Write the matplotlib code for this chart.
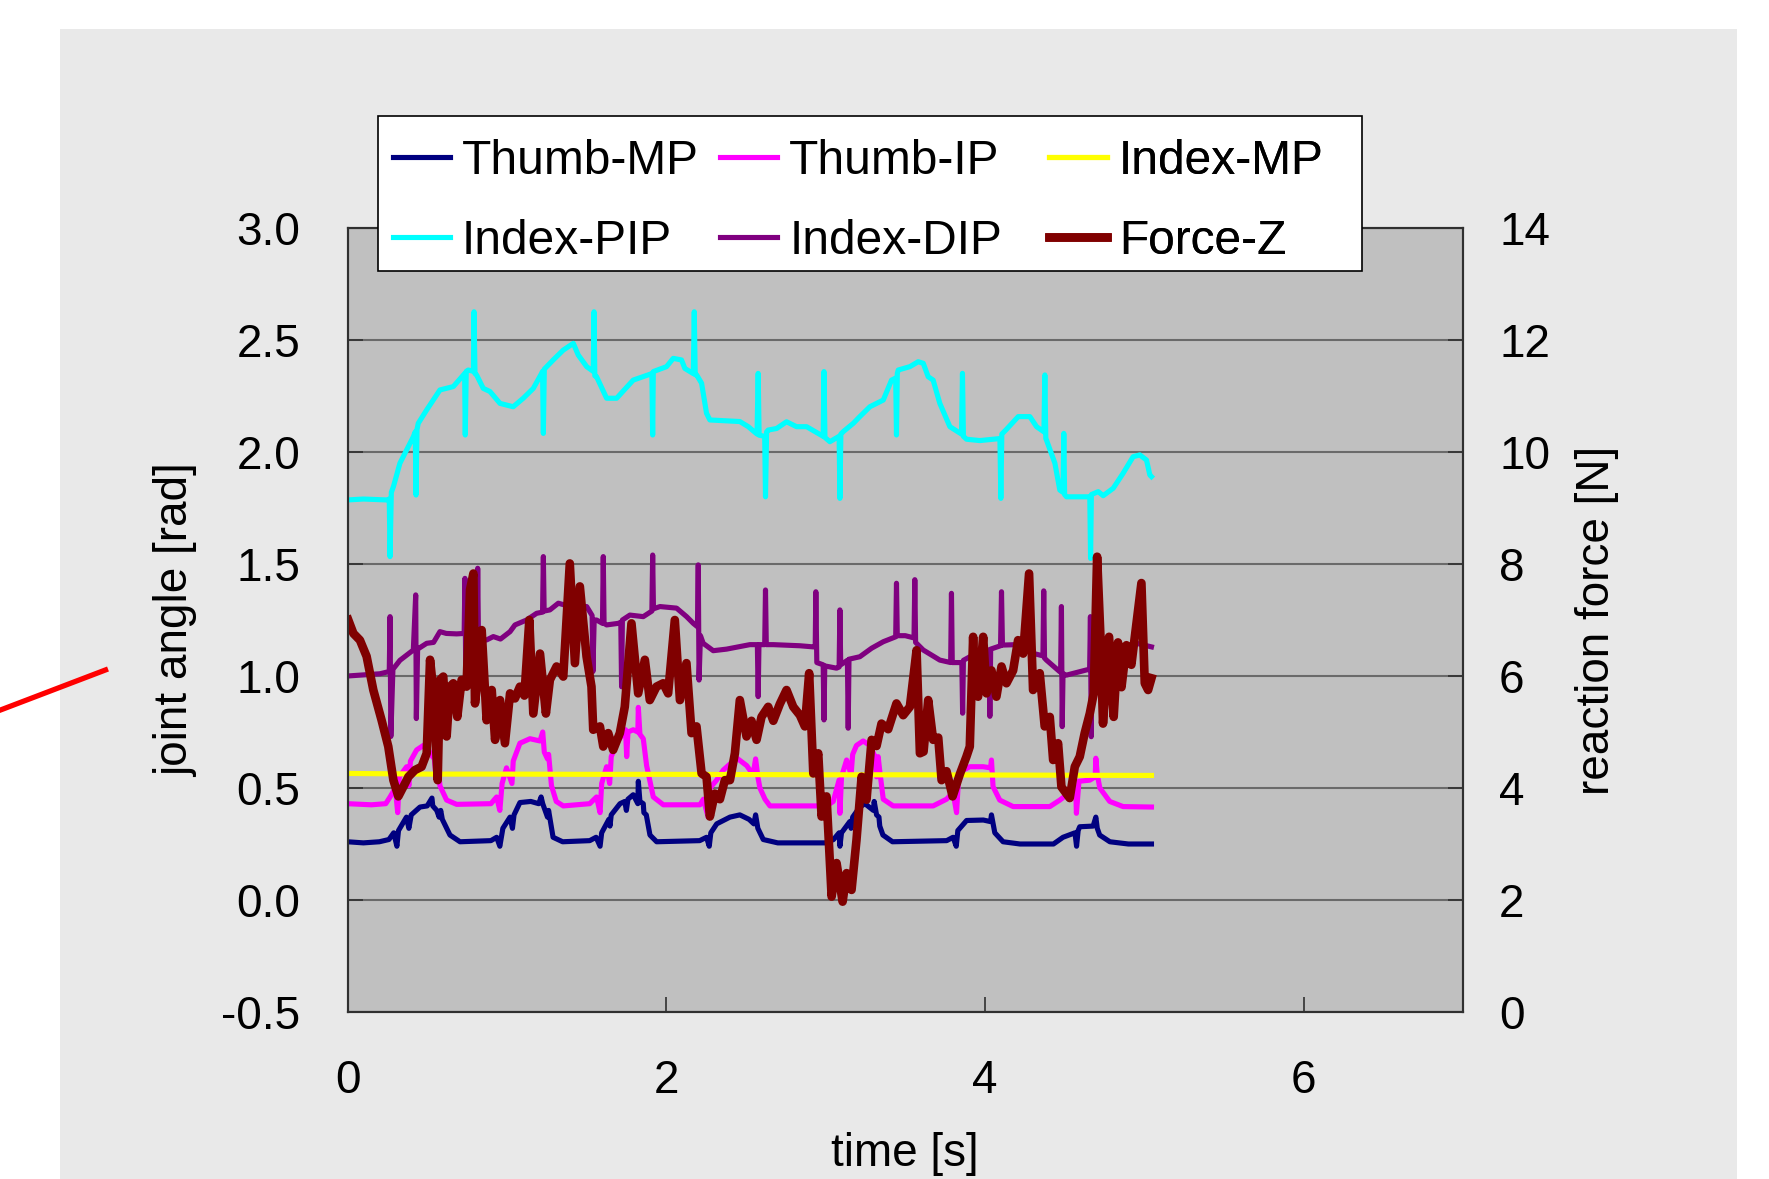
import matplotlib
matplotlib.use("Agg")
import matplotlib.pyplot as plt
from matplotlib.patches import Rectangle
from matplotlib.lines import Line2D
from matplotlib.ticker import FormatStrFormatter

plt.rcParams['font.family'] = ['Liberation Sans', 'DejaVu Sans']

# --- data ---
thumb_mp_t = [0.00, 0.10, 0.20, 0.26, 0.29, 0.31, 0.32, 0.37, 0.385, 0.40, 0.455, 0.50, 0.53, 0.535,
              0.56, 0.575, 0.585, 0.595, 0.643, 0.706, 0.90, 0.936, 0.956, 0.975, 1.02, 1.035, 1.045,
              1.082, 1.15, 1.20, 1.215, 1.225, 1.255, 1.262, 1.29, 1.35, 1.52, 1.56, 1.585, 1.595,
              1.64, 1.647, 1.655, 1.71, 1.74, 1.75, 1.76, 1.793, 1.822, 1.825, 1.835, 1.856, 1.86,
              1.875, 1.898, 1.94, 2.21, 2.253, 2.27, 2.28, 2.317, 2.40, 2.462, 2.52, 2.55, 2.561,
              2.575, 2.609, 2.70, 3.00, 3.05, 3.085, 3.09, 3.10, 3.152, 3.16, 3.17, 3.215, 3.247,
              3.30, 3.305, 3.32, 3.335, 3.34, 3.36, 3.42, 3.76, 3.80, 3.82, 3.83, 3.885, 3.99, 4.035,
              4.041, 4.062, 4.114, 4.22, 4.43, 4.49, 4.565, 4.575, 4.585, 4.595, 4.679, 4.696, 4.705,
              4.72, 4.784, 4.90, 5.045]
thumb_mp = [0.26, 0.255, 0.26, 0.27, 0.30, 0.24, 0.31, 0.37, 0.32, 0.38, 0.415, 0.42, 0.455, 0.42,
            0.40, 0.37, 0.40, 0.36, 0.29, 0.26, 0.265, 0.28, 0.24, 0.32, 0.37, 0.32, 0.38,
            0.435, 0.44, 0.43, 0.46, 0.43, 0.37, 0.40, 0.28, 0.26, 0.265, 0.28, 0.24, 0.30,
            0.36, 0.33, 0.38, 0.43, 0.44, 0.40, 0.45, 0.47, 0.43, 0.53, 0.44, 0.43, 0.39,
            0.38, 0.29, 0.26, 0.265, 0.28, 0.24, 0.30, 0.34, 0.37, 0.38, 0.36, 0.34, 0.38,
            0.32, 0.27, 0.255, 0.255, 0.27, 0.30, 0.24, 0.30, 0.35, 0.32, 0.37, 0.415, 0.43,
            0.40, 0.44, 0.38, 0.37, 0.33, 0.29, 0.26, 0.265, 0.28, 0.24, 0.31, 0.355, 0.357, 0.35,
            0.38, 0.30, 0.26, 0.25, 0.25, 0.28, 0.30, 0.24, 0.31, 0.327, 0.33, 0.37, 0.32,
            0.29, 0.26, 0.25, 0.25]

thumb_ip_t = [0.00, 0.15, 0.24, 0.267, 0.30, 0.315, 0.325, 0.371, 0.385, 0.395, 0.434, 0.476, 0.50,
              0.518, 0.545, 0.555, 0.565, 0.58, 0.622, 0.685, 0.90, 0.936, 0.956, 0.97, 0.998, 1.032,
              1.04, 1.082, 1.145, 1.208, 1.225, 1.235, 1.255, 1.262, 1.28, 1.31, 1.354, 1.52, 1.563,
              1.585, 1.595, 1.626, 1.645, 1.655, 1.689, 1.745, 1.752, 1.76, 1.793, 1.822, 1.825,
              1.835, 1.856, 1.877, 1.919, 1.982, 2.212, 2.233, 2.263, 2.275, 2.317, 2.358, 2.442,
              2.505, 2.545, 2.561, 2.575, 2.588, 2.62, 2.651, 3.006, 3.048, 3.085, 3.09, 3.10,
              3.132, 3.16, 3.17, 3.194, 3.236, 3.278, 3.31, 3.32, 3.33, 3.341, 3.362, 3.424, 3.675,
              3.759, 3.80, 3.822, 3.835, 3.864, 3.905, 3.989, 4.035, 4.041, 4.051, 4.093, 4.177,
              4.407, 4.47, 4.532, 4.57, 4.574, 4.59, 4.658, 4.692, 4.696, 4.705, 4.721, 4.783,
              4.867, 5.045]
thumb_ip = [0.43, 0.425, 0.43, 0.46, 0.50, 0.39, 0.55, 0.595, 0.51, 0.62, 0.67, 0.69, 0.685,
            0.655, 0.63, 0.56, 0.63, 0.51, 0.446, 0.427, 0.43, 0.46, 0.40, 0.52, 0.59, 0.52,
            0.62, 0.70, 0.72, 0.71, 0.75, 0.66, 0.63, 0.65, 0.51, 0.44, 0.42, 0.43, 0.46,
            0.39, 0.52, 0.595, 0.52, 0.64, 0.70, 0.76, 0.64, 0.75, 0.76, 0.75, 0.86,
            0.74, 0.72, 0.60, 0.46, 0.425, 0.425, 0.45, 0.37, 0.50, 0.536, 0.58, 0.634,
            0.60, 0.56, 0.63, 0.55, 0.50, 0.45, 0.42, 0.42, 0.44, 0.536, 0.387, 0.55,
            0.625, 0.56, 0.65, 0.69, 0.71, 0.69, 0.64, 0.55, 0.64, 0.57, 0.45, 0.42, 0.42,
            0.45, 0.48, 0.39, 0.55, 0.58, 0.595, 0.595, 0.59, 0.625, 0.506, 0.446, 0.417,
            0.417, 0.446, 0.48, 0.50, 0.387, 0.53, 0.535, 0.55, 0.633, 0.56, 0.50, 0.44,
            0.417, 0.415]

index_mp_t = [0.0, 0.5, 1.0, 1.5, 2.0, 2.5, 3.0, 3.5, 4.0, 4.5, 5.045]
index_mp = [0.565, 0.562, 0.562, 0.561, 0.561, 0.56, 0.559, 0.559, 0.558, 0.557, 0.556]

index_pip_t = [0.00, 0.10, 0.246, 0.262, 0.267, 0.275, 0.288, 0.329, 0.371, 0.413, 0.425, 0.430,
               0.436, 0.444, 0.497, 0.580, 0.664, 0.727, 0.735, 0.739, 0.745, 0.758, 0.79, 0.794,
               0.80, 0.810, 0.852, 0.894, 0.957, 1.040, 1.103, 1.166, 1.218, 1.224, 1.229, 1.235,
               1.291, 1.354, 1.417, 1.448, 1.501, 1.542, 1.547, 1.552, 1.563, 1.626, 1.689, 1.793,
               1.91, 1.915, 1.919, 2.002, 2.044, 2.096, 2.117, 2.17, 2.176, 2.182, 2.191, 2.222,
               2.253, 2.274, 2.462, 2.515, 2.57, 2.577, 2.583, 2.618, 2.623, 2.63, 2.640, 2.693,
               2.755, 2.818, 2.881, 2.954, 2.985, 2.990, 2.996, 3.027, 3.085, 3.090, 3.096, 3.111,
               3.174, 3.215, 3.278, 3.362, 3.414, 3.44, 3.445, 3.45, 3.456, 3.529, 3.581, 3.613,
               3.644, 3.675, 3.717, 3.780, 3.853, 3.859, 3.865, 3.885, 3.968, 4.052, 4.094, 4.100,
               4.106, 4.135, 4.209, 4.282, 4.324, 4.37, 4.376, 4.382, 4.386, 4.439, 4.470, 4.49,
               4.495, 4.50, 4.512, 4.637, 4.658, 4.663, 4.668, 4.711, 4.742, 4.805, 4.867, 4.930,
               4.972, 5.014, 5.035, 5.045]
index_pip = [1.786, 1.79, 1.786, 1.79, 1.533, 1.82, 1.845, 1.95, 2.009, 2.068, 2.09, 1.808,
             2.10, 2.128, 2.188, 2.277, 2.292, 2.344, 2.35, 2.076, 2.36, 2.366, 2.36, 2.626,
             2.35, 2.344, 2.284, 2.27, 2.217, 2.202, 2.24, 2.284, 2.351, 2.36, 2.083, 2.37,
             2.411, 2.455, 2.485, 2.433, 2.381, 2.36, 2.626, 2.34, 2.336, 2.24, 2.24, 2.321,
             2.35, 2.076, 2.359, 2.381, 2.418, 2.411, 2.373, 2.35, 2.626, 2.345, 2.344, 2.307,
             2.173, 2.143, 2.136, 2.113, 2.08, 2.351, 2.075, 2.07, 1.80, 2.09, 2.098, 2.105,
             2.135, 2.113, 2.113, 2.083, 2.07, 2.359, 2.065, 2.046, 2.07, 1.793, 2.08, 2.091,
             2.128, 2.158, 2.202, 2.232, 2.321, 2.33, 2.076, 2.35, 2.366, 2.381, 2.403, 2.396,
             2.336, 2.321, 2.217, 2.113, 2.08, 2.351, 2.07, 2.057, 2.051, 2.057, 2.06, 1.793,
             2.08, 2.101, 2.158, 2.158, 2.113, 2.09, 2.344, 2.06, 2.054, 1.95, 1.83, 1.82,
             2.083, 1.81, 1.80, 1.80, 1.80, 1.525, 1.81, 1.823, 1.805, 1.838, 1.905, 1.979,
             1.987, 1.964, 1.897, 1.89]

index_dip_t = [0.00, 0.10, 0.204, 0.262, 0.267, 0.272, 0.285, 0.329, 0.413, 0.428, 0.432, 0.44,
               0.497, 0.54, 0.580, 0.62, 0.685, 0.732, 0.737, 0.742, 0.755, 0.790, 0.813, 0.817,
               0.822, 0.873, 0.915, 0.96, 1.02, 1.051, 1.124, 1.187, 1.224, 1.229, 1.234, 1.27,
               1.323, 1.396, 1.501, 1.535, 1.54, 1.548, 1.563, 1.60, 1.605, 1.61, 1.626, 1.699,
               1.715, 1.72, 1.725, 1.772, 1.856, 1.91, 1.915, 1.92, 1.961, 2.065, 2.128, 2.17,
               2.196, 2.201, 2.206, 2.215, 2.232, 2.295, 2.379, 2.525, 2.572, 2.577, 2.582, 2.618,
               2.623, 2.628, 2.672, 2.839, 2.923, 2.935, 2.939, 2.945, 2.985, 2.99, 2.995, 3.069,
               3.085, 3.09, 3.095, 3.137, 3.142, 3.147, 3.215, 3.289, 3.362, 3.44, 3.445, 3.45,
               3.50, 3.555, 3.56, 3.565, 3.613, 3.717, 3.785, 3.79, 3.795, 3.855, 3.86, 3.865,
               3.926, 4.026, 4.031, 4.036, 4.098, 4.104, 4.11, 4.198, 4.302, 4.364, 4.369, 4.374,
               4.386, 4.47, 4.475, 4.48, 4.485, 4.49, 4.512, 4.637, 4.657, 4.662, 4.667, 4.672,
               4.72, 4.951, 5.045]
index_dip = [1.00, 1.005, 1.01, 1.02, 1.265, 0.73, 1.03, 1.07, 1.116, 1.362, 0.81, 1.12,
             1.146, 1.15, 1.198, 1.19, 1.188, 1.19, 1.436, 1.012, 1.17, 1.168, 1.17, 1.481,
             1.16, 1.161, 1.176, 1.165, 1.198, 1.228, 1.25, 1.28, 1.285, 1.533, 1.29, 1.295,
             1.325, 1.31, 1.31, 1.27, 1.02, 1.25, 1.25, 1.235, 1.533, 1.235, 1.228, 1.235,
             1.24, 0.952, 1.25, 1.272, 1.265, 1.29, 1.54, 1.30, 1.31, 1.303, 1.265, 1.235,
             1.22, 1.496, 0.982, 1.18, 1.146, 1.113, 1.12, 1.14, 1.14, 0.908, 1.14, 1.14,
             1.384, 1.14, 1.14, 1.135, 1.13, 1.13, 1.376, 1.06, 1.05, 0.804, 1.045, 1.035,
             1.04, 1.295, 1.05, 1.07, 0.767, 1.075, 1.086, 1.124, 1.153, 1.175, 1.414, 1.18,
             1.18, 1.17, 1.43, 1.15, 1.116, 1.071, 1.06, 1.369, 1.06, 1.06, 0.834, 1.07,
             1.094, 1.116, 0.82, 1.12, 1.135, 1.376, 1.138, 1.14, 1.101, 1.09, 1.38, 1.08,
             1.071, 1.019, 1.02, 1.31, 0.774, 1.01, 1.004, 1.027, 1.03, 1.265, 0.729, 1.05,
             1.10, 1.146, 1.13]

force_t = [0.005, 0.037, 0.078, 0.12, 0.162, 0.214, 0.256, 0.288, 0.319, 0.35, 0.382, 0.423, 0.465,
           0.497, 0.518, 0.538, 0.566, 0.58, 0.601, 0.622, 0.643, 0.664, 0.689, 0.716, 0.747, 0.769,
           0.79, 0.80, 0.821, 0.842, 0.873, 0.905, 0.926, 0.957, 0.988, 1.02, 1.051, 1.082, 1.11,
           1.141, 1.166, 1.208, 1.245, 1.27, 1.312, 1.354, 1.395, 1.427, 1.458, 1.50, 1.531, 1.542,
           1.584, 1.605, 1.636, 1.667, 1.709, 1.74, 1.782, 1.824, 1.866, 1.897, 1.939, 1.981, 2.012,
           2.054, 2.086, 2.127, 2.159, 2.19, 2.222, 2.253, 2.274, 2.305, 2.337, 2.368, 2.40, 2.431,
           2.462, 2.504, 2.535, 2.567, 2.598, 2.64, 2.672, 2.713, 2.755, 2.797, 2.839, 2.87, 2.897,
           2.923, 2.954, 2.975, 3.006, 3.038, 3.069, 3.107, 3.132, 3.163, 3.194, 3.226, 3.257,
           3.289, 3.32, 3.351, 3.393, 3.445, 3.487, 3.529, 3.571, 3.592, 3.615, 3.644, 3.675,
           3.707, 3.728, 3.759, 3.797, 3.843, 3.884, 3.905, 3.926, 3.937, 3.957, 3.989, 4.01,
           4.041, 4.072, 4.104, 4.135, 4.177, 4.208, 4.24, 4.277, 4.302, 4.344, 4.375, 4.407,
           4.428, 4.459, 4.48, 4.532, 4.564, 4.595, 4.626, 4.658, 4.683, 4.704, 4.725, 4.741,
           4.779, 4.808, 4.835, 4.857, 4.888, 4.919, 4.946, 4.982, 5.003, 5.024, 5.045]
force_z = [7.0, 6.76, 6.64, 6.35, 5.75, 5.21, 4.74, 4.14, 3.85, 4.02, 4.2, 4.32, 4.38,
           4.62, 6.29, 5.75, 4.14, 5.93, 5.99, 4.92, 5.81, 5.87, 5.27, 5.93, 5.81, 7.54,
           7.83, 5.51, 6.05, 6.82, 5.21, 5.75, 4.86, 5.57, 4.80, 5.69, 5.6, 5.81, 5.65,
           7.0, 5.33, 6.4, 5.33, 5.93, 6.17, 5.99, 8.01, 6.23, 7.6, 6.35, 5.81, 5.04,
           5.1, 4.74, 4.98, 4.68, 4.98, 5.45, 6.94, 5.69, 6.29, 5.57, 5.81, 5.87, 5.69,
           7.0, 5.57, 6.23, 4.98, 5.1, 4.26, 4.2, 3.49, 3.9, 3.8, 4.14, 4.14, 4.62,
           5.57, 4.92, 5.2, 4.86, 5.27, 5.45, 5.2, 5.5, 5.75, 5.45, 5.3, 5.1, 6.05,
           4.26, 4.62, 3.49, 3.85, 2.06, 2.66, 1.97, 2.48, 2.18, 3.07, 4.2, 3.79,
           4.86, 4.75, 5.15, 5.05, 5.51, 5.3, 5.45, 6.46, 4.62, 4.65, 5.57, 4.86,
           4.9, 4.14, 4.3, 3.85, 4.25, 4.56, 4.74, 6.7, 5.69, 5.63, 6.7, 5.69,
           6.1, 5.63, 6.17, 5.87, 6.1, 6.64, 6.4, 7.83, 5.75, 6.05, 5.1, 5.27,
           4.5, 4.8, 4.02, 3.82, 4.38, 4.56, 4.98, 5.33, 5.69, 8.13, 6.7, 5.15,
           6.7, 5.27, 6.6, 5.8, 6.55, 6.2, 6.82, 7.66, 5.87, 5.75, 5.96]

# --- figure ---
W, H = 1769, 1179
fig = plt.figure(figsize=(W / 100, H / 100), dpi=100)
fig.patch.set_facecolor('white')
fig.add_artist(Rectangle((60 / W, 0), (1737 - 60) / W, (H - 29) / H, transform=fig.transFigure,
                         facecolor='#E9E9E9', edgecolor='none', zorder=0))
# red pointer line at the left edge
fig.add_artist(Line2D([-10 / W, 108 / W], [1 - 714 / H, 1 - 669 / H], transform=fig.transFigure,
                      color='red', lw=3.8, solid_capstyle='butt'))

ax = fig.add_axes([347.5 / W, 1 - 1012 / H, 1115.5 / W, 784 / H])
ax.set_facecolor('#C0C0C0')
ax2 = ax.twinx()

lw = 3.7
ax.plot(thumb_mp_t, thumb_mp, color='#000080', lw=lw, label='Thumb-MP')
ax.plot(thumb_ip_t, thumb_ip, color='#FF00FF', lw=lw, label='Thumb-IP')
ax.plot(index_mp_t, index_mp, color='#FFFF00', lw=lw, label='Index-MP')
ax.plot(index_pip_t, index_pip, color='#00FFFF', lw=lw, label='Index-PIP')
ax.plot(index_dip_t, index_dip, color='#800080', lw=lw, label='Index-DIP')
ax2.plot(force_t, force_z, color='#800000', lw=6.2, label='Force-Z')

ax.set_xlim(0, 7)
ax.set_ylim(-0.5, 3.0)
ax2.set_ylim(0, 14)
ax.set_xticks([0, 2, 4, 6])
ax.set_yticks([-0.5, 0.0, 0.5, 1.0, 1.5, 2.0, 2.5, 3.0])
ax.yaxis.set_major_formatter(FormatStrFormatter('%.1f'))
ax2.set_yticks(range(0, 15, 2))
ax.grid(axis='y', color='#6A6A6A', lw=1.5)
ax.set_axisbelow(True)

ax.tick_params(axis='x', direction='in', length=11, width=1.2, color='#303030',
               labelsize=33, pad=34)
ax.tick_params(axis='y', direction='in', length=11, width=1.2, color='#303030',
               labelsize=33, pad=34)
ax2.tick_params(axis='y', direction='in', length=11, width=1.2, color='#303030',
                labelsize=33, pad=26)
for a in (ax, ax2):
    for s in a.spines.values():
        s.set_color('#303030')
        s.set_linewidth(1.5)

fig.text(176 / W, 1 - 620 / H, 'joint angle [rad]', rotation=90, ha='center', va='center', fontsize=33)
fig.text(1597 / W, 1 - 620 / H, 'reaction force [N]', rotation=90, ha='center', va='center', fontsize=33)
fig.text(905 / W, 1 - 1154 / H, 'time [s]', ha='center', va='center', fontsize=33)

# legend: white box with three equal-width columns, filled row by row
h1, l1 = ax.get_legend_handles_labels()
h2, l2 = ax2.get_legend_handles_labels()
hs, ls = h1 + h2, l1 + l2
ax_w, ax_h = 1115.5, 784
box = Rectangle(((378 - 347.5) / ax_w, (1012 - 271) / ax_h), 984 / ax_w, 155 / ax_h,
                transform=ax2.transAxes, facecolor='white', edgecolor='black', lw=1.2,
                clip_on=False, zorder=4)
ax2.add_artist(box)
col_x = [392.6, 719.8, 1049.2]
for c in range(3):
    lg = ax2.legend([hs[c], hs[c + 3]], [ls[c], ls[c + 3]], loc='upper left',
                    bbox_to_anchor=((col_x[c] - 347.5) / ax_w, (1012 - 139) / ax_h),
                    fontsize=34.5, frameon=False, borderpad=0, labelspacing=0.72,
                    handlelength=1.2, handletextpad=0.25, borderaxespad=0)
    lg.set_zorder(5)
    ax2.add_artist(lg)

fig.savefig('out.png', dpi=100)
